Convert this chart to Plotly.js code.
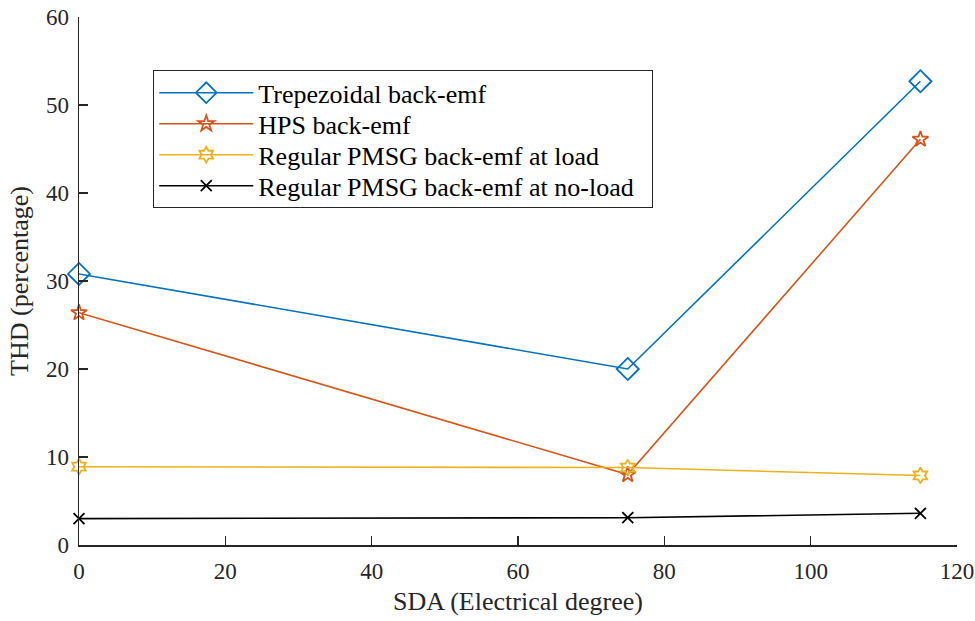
<!DOCTYPE html>
<html>
<head>
<meta charset="utf-8">
<script src="https://cdn.plot.ly/plotly-3.0.1.min.js"></script>
<style>
  html, body { margin: 0; padding: 0; background: #fff; }
  #chart { width: 975px; height: 621px; }
</style>
</head>
<body>
<div id="chart"></div>
<script>
// Slot displacement angle (electrical degrees)
const sda = [0, 75, 115];

// THD (%) for each back-emf waveform
const thdTrapezoidal = [30.8, 20.0, 52.7];
const thdHps = [26.4, 8.0, 46.1];
const thdRegularLoad = [8.9, 8.8, 7.9];
const thdRegularNoLoad = [3.0, 3.1, 3.6];

const seriesNames = [
  'Trepezoidal back-emf',
  'HPS back-emf',
  'Regular PMSG back-emf at load',
  'Regular PMSG back-emf at no-load'
];

const xTicks = [0, 20, 40, 60, 80, 100, 120];
const yTicks = [0, 10, 20, 30, 40, 50, 60];

const font = '"Liberation Serif", serif';

function series(y, name, color, symbol, size) {
  return {
    x: sda, y: y, name: name, type: 'scatter', mode: 'lines+markers',
    line: { color: color, width: 1.6 },
    marker: { symbol: symbol, size: size, color: color, line: { color: color, width: 1.8 } },
    cliponaxis: false
  };
}

const traces = [
  series(thdTrapezoidal, seriesNames[0], '#0072BD', 'diamond-open', 17),
  series(thdHps, seriesNames[1], '#D95319', 'star-open', 12),
  series(thdRegularLoad, seriesNames[2], '#EDB120', 'hexagram-open', 12),
  series(thdRegularNoLoad, seriesNames[3], '#000000', 'x-thin-open', 11)
];

const axisCommon = {
  showgrid: false, zeroline: false, showline: true,
  linecolor: '#262626', linewidth: 1.5,
  ticks: 'inside', ticklen: 9, tickwidth: 1.5, tickcolor: '#262626',
  tickfont: { family: font, size: 23, color: '#262626' },
  mirror: false
};

const layout = {
  width: 975, height: 621,
  margin: { l: 79, r: 18, t: 17, b: 76 },
  paper_bgcolor: '#fff', plot_bgcolor: '#fff',
  font: { family: font, color: '#262626' },
  xaxis: Object.assign({}, axisCommon, {
    range: [0, 120], tickvals: xTicks, ticktext: xTicks.map(String),
    ticklabelstandoff: 5,
    title: { text: 'SDA (Electrical degree)', font: { family: font, size: 26, color: '#262626' }, standoff: 8 }
  }),
  yaxis: Object.assign({}, axisCommon, {
    range: [0, 60], tickvals: yTicks, ticktext: yTicks.map(String),
    ticklabelstandoff: 4,
    title: { text: 'THD (percentage)', font: { family: font, size: 26, color: '#262626' }, standoff: 10 }
  }),
  legend: {
    x: 0.084, y: 0.9, xanchor: 'left', yanchor: 'top',
    bgcolor: '#fff', bordercolor: '#262626', borderwidth: 1.5,
    font: { family: font, size: 26, color: '#000' },
    itemwidth: 94, tracegroupgap: 0
  },
  showlegend: true
};

// Tighten the legend rows to a fixed pitch and resize its box to suit.
function compactLegend(gd, pitch, boxWidth, boxHeight) {
  const items = gd.querySelectorAll('.legend .traces');
  if (!items.length) return;
  const parse = el => {
    const m = /translate\(\s*([-\d.]+)[ ,]+([-\d.]+)\s*\)/.exec(el.getAttribute('transform') || '');
    return m ? [parseFloat(m[1]), parseFloat(m[2])] : [0, 0];
  };
  const first = parse(items[0]);
  items.forEach((el, i) => {
    const p = parse(el);
    el.setAttribute('transform', 'translate(' + p[0] + ',' + (first[1] - 2 + i * pitch) + ')');
  });
  const bg = gd.querySelector('.legend .bg');
  if (bg) {
    bg.setAttribute('width', boxWidth);
    bg.setAttribute('height', boxHeight);
  }
}

Plotly.newPlot('chart', traces, layout, { displayModeBar: false, staticPlot: true })
  .then(gd => compactLegend(gd, 31, 499, 137));
</script>
</body>
</html>
